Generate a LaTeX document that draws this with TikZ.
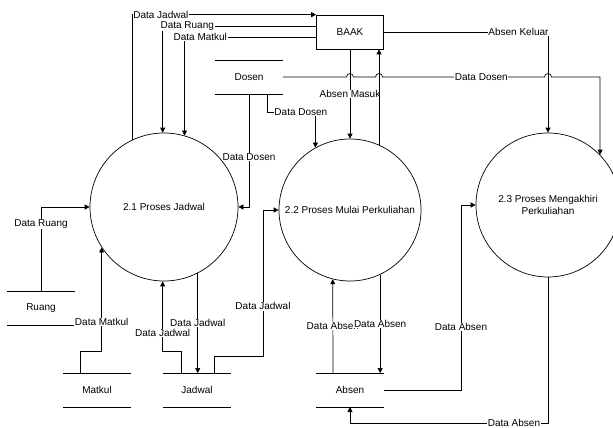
\documentclass[tikz,border=0pt]{standalone}
\usepackage{fontspec}
\setmainfont{Liberation Sans}
\usetikzlibrary{positioning, arrows.meta}

\begin{document}
\begin{tikzpicture}[
        x=1pt, y=-1pt,
        line width=0.7pt,
        >={Triangle[length=5pt, width=5pt]},
        font=\fontsize{10}{11.5}\selectfont,
        process/.style={circle, draw, minimum size=142pt, inner sep=0pt, align=center},
        entity/.style={rectangle, draw, minimum width=67pt, minimum height=34pt},
        store/.style={minimum width=68pt, minimum height=34pt, inner sep=0pt, outer sep=0pt},
        flowtext/.style={fill=white, inner sep=0.6pt}, % labels sit on the lines
        flow/.style={->}
      ]
        \useasboundingbox (0,0) rectangle (613,428);

        % External entity and data stores
        \node[entity] (baak) at (350,32) {BAAK};
        \node[store] (dosen) at (249,77) {Dosen};
        \node[store] (ruang) at (41,308) {Ruang};
        \node[store] (matkul) at (97,390) {Matkul};
        \node[store] (jadwal) at (197,390) {Jadwal};
        \node[store] (absen) at (350,390) {Absen};
        \foreach \s in {dosen, ruang, matkul, jadwal, absen}
            \draw (\s.north west) -- (\s.north east) (\s.south west) -- (\s.south east);

        % Processes
        \node[process, minimum size=148pt] (p_jadwal) at (164,207) {2.1 Proses Jadwal};
        \node[process] (p_mulai) at (350,210) {2.2 Proses Mulai Perkuliahan};
        \node[process, minimum size=144pt] (p_akhir) at (548,205) {2.3 Proses Mengakhiri\\Perkuliahan};

        % Flows between BAAK and 2.1
        \draw[flow] (p_jadwal.115) |- node[flowtext, pos=0.577] {Data Jadwal} (baak.north west);
        \draw[flow] ([yshift=6pt]baak.west) -| node[flowtext, pos=0.42] {Data Ruang} (p_jadwal.91);
        \draw[flow] ([yshift=-5pt]baak.west) -| node[flowtext, pos=0.44] {Data Matkul} (p_jadwal.74);

        % Flows into 2.1 from the stores
        \draw[flow] (dosen.south) |- node[flowtext, pos=0.28] {Data Dosen} (p_jadwal.east);
        \draw[flow] (ruang.north) |- node[flowtext, pos=0.4] {Data Ruang} (p_jadwal.west);
        \draw[flow] ([xshift=-17pt]matkul.north) -- ++(0,-22) -| node[flowtext, pos=0.64] {Data Matkul} (p_jadwal.213);
        \draw[flow] ([xshift=-16pt]jadwal.north) -- ++(0,-22) -| node[flowtext, pos=0.63] {Data Jadwal} (p_jadwal.269);
        \draw[flow] (p_jadwal.297) -- node[flowtext] {Data Jadwal} (p_jadwal.297 |- jadwal.north);

        % Flows around 2.2
        \draw[flow] ([xshift=17pt]jadwal.north) -- ++(0,-17) -- ++(49,0) |- node[flowtext, pos=0.17] {Data Jadwal} (p_mulai.west);
        \draw[flow] (baak.south) -- node[flowtext] {Absen Masuk} (p_mulai.north);
        \draw[flow] (p_mulai.66) -- (p_mulai.66 |- baak.south);
        \draw[flow] ([xshift=18pt]dosen.south) -- ++(0,18) -| node[flowtext, pos=0.35] {Data Dosen} (p_mulai.119);
        \draw[flow] ([xshift=-17pt]absen.north) -- node[flowtext] {Data Absen} (p_mulai.256);
        \draw[flow] (p_mulai.295) -- node[flowtext] {Data Absen} (p_mulai.295 |- absen.north);

        % Flows around 2.3
        \draw[flow] (baak.east) -| node[flowtext, pos=0.41] {Absen Keluar} (p_akhir.north);
        \draw[flow] (dosen.east) -- ([xshift=-3.5pt]baak.south |- dosen.east)
            arc[start angle=180, end angle=0, radius=3.5pt]
            -- ([xshift=-3.5pt]p_mulai.66 |- dosen.east)
            arc[start angle=180, end angle=0, radius=3.5pt]
            -- node[flowtext, pos=0.61] {Data Dosen} ([xshift=-3.5pt]p_akhir.north |- dosen.east)
            arc[start angle=180, end angle=0, radius=3.5pt]
            -| (p_akhir.44);
        \draw[flow] (absen.east) -- ++(77,0) |- node[flowtext, pos=0.17] {Data Absen} (p_akhir.west);
        \draw[flow] (p_akhir.south) |- node[flowtext, pos=0.586] {Data Absen} ([yshift=-16pt]absen.south) -- (absen.south);
\end{tikzpicture}
\end{document}
